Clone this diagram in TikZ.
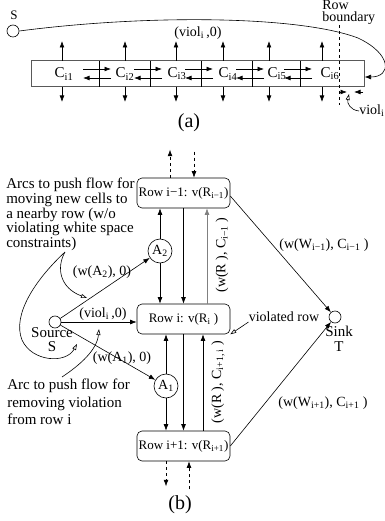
\documentclass[tikz,border=0pt]{standalone}
\usepackage{fontspec}
\setmainfont{Liberation Serif}
\usetikzlibrary{arrows.meta,positioning}

\tikzset{
  fl/.style={-{Latex[length=6.5pt,width=4.8pt]}},
  ann/.style={-{Triangle[open,length=6pt,width=4pt]}},
  rowbox/.style={draw,rounded corners=5pt,minimum width=93pt,minimum height=30pt,inner sep=1pt,font=\fontsize{13}{15}\selectfont},
  vtx/.style={draw,circle,minimum size=12pt,inner sep=0pt},
  anode/.style={draw,circle,minimum size=24pt,inner sep=0pt,font=\fontsize{14}{16}\selectfont},
  lbl/.style={inner sep=0pt,font=\fontsize{14}{16}\selectfont},
  note/.style={inner sep=0pt,align=left,font=\fontsize{15}{14.6}\selectfont},
  figcap/.style={inner sep=0pt,font=\fontsize{20}{22}\selectfont},
}

\begin{document}
\begin{tikzpicture}[x=1pt,y=-1pt,line width=0.6pt]
\useasboundingbox (0,0) rectangle (384,521);

% ============================================
% (a) ONE ROW OF CELLS
% ============================================
\begin{scope}
    \node[vtx] (s) at (13,31) {};
    \node[lbl,font=\fontsize{13}{15}\selectfont] (slbl) at (14,15) {S};

    % the row
    \node[draw=gray!70!black,line width=1pt,minimum width=333pt,minimum height=26pt,inner sep=0pt] (row) at (197.5,74) {};
    \foreach \d in {99,150,201,252,300}
        \draw (\d,61) -- (\d,87);

    % cells
    \foreach \n/\x in {1/64,2/125,3/177,4/228,5/277,6/330}
        \node[lbl,font=\fontsize{15}{16}\selectfont] (c\n) at (\x,74) {C\textsubscript{i\n}};

    % up / down arrows
    \foreach \x in {62,125,176,223,269,322} {
        \draw[fl] (\x,61) -- (\x,41);
        \draw[fl] (\x,87) -- (\x,102);
    }

    % moves between cells
    \foreach \d in {99,150,201,252,300} {
        \draw[fl] (\d-16,69) -- (\d+12,69);
        \draw[fl] (\d+12,78) -- (\d-16,78);
    }

    % arc from S
    \draw[fl] (s.east) .. controls (150,14) and (300,16) .. (358,38)
        .. controls (392,54) and (392,77) .. ([yshift=-3pt]row.east);
    \node[lbl] (vlbl) at (198,33) {(viol\textsubscript{i}\,,0)};

    % row boundary
    \draw[dashed] (339,25) -- (339,105);
    \node[note,anchor=north west,font=\fontsize{14}{12.5}\selectfont] (bnd) at (322,0) {Row\\boundary};

    % violation width
    \draw[fl] (340,92) -- (347,92);
    \draw[fl] (363,92) -- (354,92);
    \node[lbl,anchor=west] (viol) at (359,111) {viol\textsubscript{i}};
    \draw[ann] (viol.west) .. controls (350,110) and (347,103) .. (349,94);

    \node[figcap] (capa) at (189,123) {(a)};
\end{scope}

% ============================================
% (b) FLOW NETWORK
% ============================================
\begin{scope}
    % rows
    \node[rowbox] (r1) at (183.5,193) {Row i−1: v(R\textsubscript{i−1})};
    \node[rowbox] (r0) at (183.5,319) {Row i: v(R\textsubscript{i} )};
    \node[rowbox] (r2) at (183.5,446) {Row i+1: v(R\textsubscript{i+1})};

    % helper nodes
    \node[anode] (a2) at (160,251) {A\textsubscript{2}};
    \node[anode] (a1) at (166,386) {A\textsubscript{1}};

    % source and sink
    \node[vtx] (src) at (55,322) {};
    \node[note,align=center,anchor=north] (srclbl) at (52,327) {Source\\S};
    \node[vtx] (snk) at (335,317) {};
    \node[note,align=center,anchor=north] (snklbl) at (339,326) {Sink\\T};

    % between row i-1 and row i
    \draw[fl] (a2) -- (a2 |- r1.south);
    \draw[fl] (a2) -- (a2 |- r0.north);
    \draw[fl] (r1.south) -- (r0.north);
    \draw[fl,gray] ([xshift=23.5pt]r0.north) -- ([xshift=23.5pt]r1.south);
    \node[lbl,rotate=90] (l1) at (222,255) {(w(R ), C\textsubscript{i−1} )};

    % between row i and row i+1
    \draw[fl] (a1) -- (a1 |- r0.south);
    \draw[fl] (a1) -- (a1 |- r2.north);
    \draw[fl] (r0.south) -- (r2.north);
    \draw[fl] ([xshift=19.5pt]r2.north) -- ([xshift=19.5pt]r0.south);
    \node[lbl,rotate=90] (l2) at (218,382) {(w(R ), C\textsubscript{i+1, i} )};

    % rows further away
    \draw[fl,dashed] ([xshift=-13.5pt]r1.north) -- ++(0,-28);
    \draw[fl,dashed] ([xshift=10.5pt]r1.north) ++(0,-26) -- ([xshift=10.5pt]r1.north);
    \draw[fl,dashed] ([xshift=-17.5pt]r2.south) -- ++(0,25);
    \draw[fl,dashed] ([xshift=5.5pt]r2.south) ++(0,28) -- ([xshift=5.5pt]r2.south);

    % arcs out of the source
    \draw[fl] (src) -- (a2);
    \draw[fl] (src) -- (src -| r0.west);
    \draw[fl] (src) -- (a1);
    \node[lbl] (wa2) at (102,272) {(w(A\textsubscript{2}), 0)};
    \node[lbl] (vio) at (103,314) {(viol\textsubscript{i}\,,0)};
    \node[lbl] (wa1) at (122,358) {(w(A\textsubscript{1}), 0)};

    % arcs into the sink
    \draw[fl] ([yshift=-3pt]r1.east) -- (snk);
    \draw[fl] (r2.east) -- (snk);
    \node[lbl] (ws1) at (324,245) {(w(W\textsubscript{i−1}), C\textsubscript{i−1} )};
    \node[lbl] (ws2) at (323,403) {(w(W\textsubscript{i+1}), C\textsubscript{i+1} )};

    % violated row
    \node[lbl] (vr) at (284,317) {violated row};
    \draw[ann] ([yshift=-5pt]vr.west) -- (r0.south east);

    % notes
    \node[note,anchor=north west] (n1) at (6,178) {Arcs to push flow for\\moving new cells to\\a nearby row (w/o\\violating white space\\constraints)};
    \node[note,anchor=north west,font=\fontsize{15}{17.5}\selectfont] (n2) at (7,379) {Arc to push flow for\\removing violation\\from row i};
    \coordinate (nk) at (65,252);
    \draw[ann] (nk) .. controls (56,268) and (60,288) .. (87,298);
    \draw[ann] (nk) .. controls (35,280) and (12,315) .. (22,340)
        .. controls (32,362) and (66,364) .. (77,344);
    \draw[ann] (62,377) .. controls (80,365) and (97,350) .. (99,329);

    \node[figcap] (capb) at (180,505) {(b)};
\end{scope}

\end{tikzpicture}
\end{document}
